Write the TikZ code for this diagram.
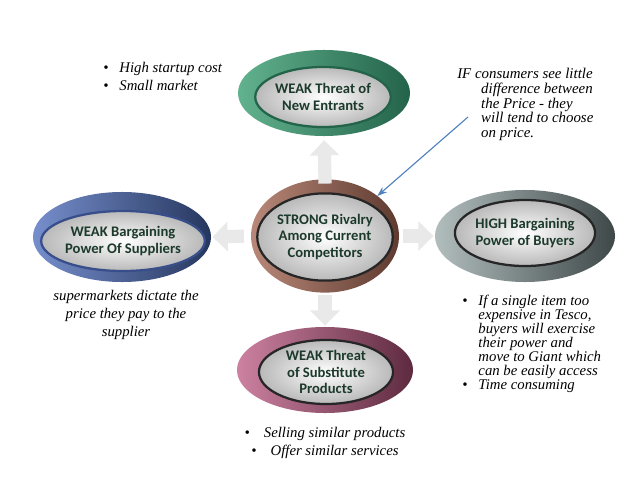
\documentclass[tikz,border=0pt]{standalone}
\usepackage{fontspec}
\setmainfont{Liberation Serif}
\newfontfamily\labelfont{Carlito}
\usetikzlibrary{arrows.meta,shapes.geometric}
\definecolor{lblgreen}{RGB}{28,58,44}
\definecolor{grnlight}{RGB}{98,178,142}
\definecolor{grnmid}{RGB}{58,148,108}
\definecolor{grndark}{RGB}{35,99,74}
\definecolor{brnlight}{RGB}{184,136,120}
\definecolor{brnmid}{RGB}{150,102,88}
\definecolor{brndark}{RGB}{94,58,48}
\definecolor{blulight}{RGB}{118,142,204}
\definecolor{blumid}{RGB}{70,98,172}
\definecolor{bludark}{RGB}{38,55,94}
\definecolor{grylight}{RGB}{178,189,189}
\definecolor{grymid}{RGB}{125,140,140}
\definecolor{grydark}{RGB}{62,72,72}
\definecolor{pnklight}{RGB}{204,130,160}
\definecolor{pnkmid}{RGB}{170,84,118}
\definecolor{pnkdark}{RGB}{94,42,64}
\definecolor{notearrow}{RGB}{79,129,189}
\newcommand{\bul}{\makebox[11.5pt][l]{\textbullet}}

\begin{document}
\begin{tikzpicture}[x=0.025cm,y=-0.025cm,
  ring/.style={ellipse,outer sep=0pt,inner sep=0pt},
  core/.style={ellipse,outer sep=0pt,inner sep=0pt,line width=1.6pt,draw=black!85,
    inner color=white,outer color=gray!55,align=center,text=lblgreen,
    font=\labelfont\bfseries\fontsize{10.4}{12}\selectfont},
  blk/.style={line width=0.33cm,draw=gray!17,-{Triangle[length=0.38cm,width=0.72cm]}},
  note/.style={inner sep=0pt,font=\itshape\fontsize{10.5}{12.8}\selectfont}
]
\useasboundingbox (0,0) rectangle (638,493);

% Forces
\node[ring,minimum width=4.3cm,minimum height=2.15cm,left color=grnlight,middle color=grnmid,right color=grndark] (entrants) at (324,93) {};
\node[core,draw=grndark,minimum width=3.35cm,minimum height=1.5cm] (entrantstxt) at (323,97) {WEAK Threat of\\New Entrants};

\node[ring,minimum width=3.7cm,minimum height=2.83cm,left color=brnlight,middle color=brnmid,right color=brndark] (rivalry) at (325,236) {};
\node[core,minimum width=2.9cm,minimum height=2.18cm] (rivalrytxt) at (325,237) {STRONG Rivalry\\Among Current\\Competitors};

\node[ring,minimum width=4.45cm,minimum height=2.25cm,left color=blulight,middle color=blumid,right color=bludark] (suppliers) at (122,237) {};
\node[core,draw=blumid!80!black,minimum width=3.15cm,minimum height=1.5cm] (supplierstxt) at (123,241) {WEAK Bargaining\\Power Of Suppliers};

\node[ring,minimum width=4.5cm,minimum height=2.3cm,left color=grylight,middle color=grymid,right color=grydark] (buyers) at (525,236) {};
\node[core,minimum width=3.35cm,minimum height=1.65cm] (buyerstxt) at (525,233) {HIGH Bargaining\\Power of Buyers};

\node[ring,minimum width=4.4cm,minimum height=2.15cm,left color=pnklight,middle color=pnkmid,right color=pnkdark] (substitutes) at (325,370) {};
\node[core,minimum width=3.35cm,minimum height=1.6cm] (substitutestxt) at (326,372) {WEAK Threat\\of Substitute\\Products};

% Pushes out of the centre
\draw[blk,shorten <=-3pt,shorten >=3pt] (rivalry.north) -- (entrants.south);
\draw[blk,shorten <=5pt,shorten >=1pt] (rivalry.west) -- (suppliers.east);
\draw[blk,shorten <=3pt,shorten >=1pt] (rivalry.east) -- (buyers.west);
\draw[blk,shorten <=2pt,shorten >=1pt] (rivalry.south) -- (substitutes.north);

% Notes
\node[note,anchor=north west,align=left] (entrantsnote) at (103,62) {\bul High startup cost\\\bul Small market};
\node[note,anchor=north west,align=left,font=\itshape\fontsize{10.6}{10.5}\selectfont] (pricenote) at (457,68)
  {IF consumers see little\\\hspace*{17pt}difference between\\\hspace*{17pt}the Price - they\\\hspace*{17pt}will tend to choose\\\hspace*{17pt}on price.};
\node[note,anchor=north,align=center] (suppliersnote) at (126,290) {supermarkets dictate the\\price they pay to the\\supplier};
\node[note,anchor=north west,align=left,font=\itshape\fontsize{10.5}{9.9}\selectfont] (buyersnote) at (462,295)
  {\bul If a single item too\\\hspace*{11.5pt}expensive in Tesco,\\\hspace*{11.5pt}buyers will exercise\\\hspace*{11.5pt}their power and\\\hspace*{11.5pt}move to Giant which\\\hspace*{11.5pt}can be easily access\\\bul Time consuming};
\node[note,anchor=north,align=center] (substitutesnote) at (325,427) {\textbullet\hspace{10pt}Selling similar products\\\textbullet\hspace{10pt}Offer similar services};

\coordinate (notetail) at (468,117);
\draw[notearrow,line width=0.8pt,-{Stealth[length=7pt,width=5pt]}] (notetail) -- (rivalry.north east);
\end{tikzpicture}
\end{document}
